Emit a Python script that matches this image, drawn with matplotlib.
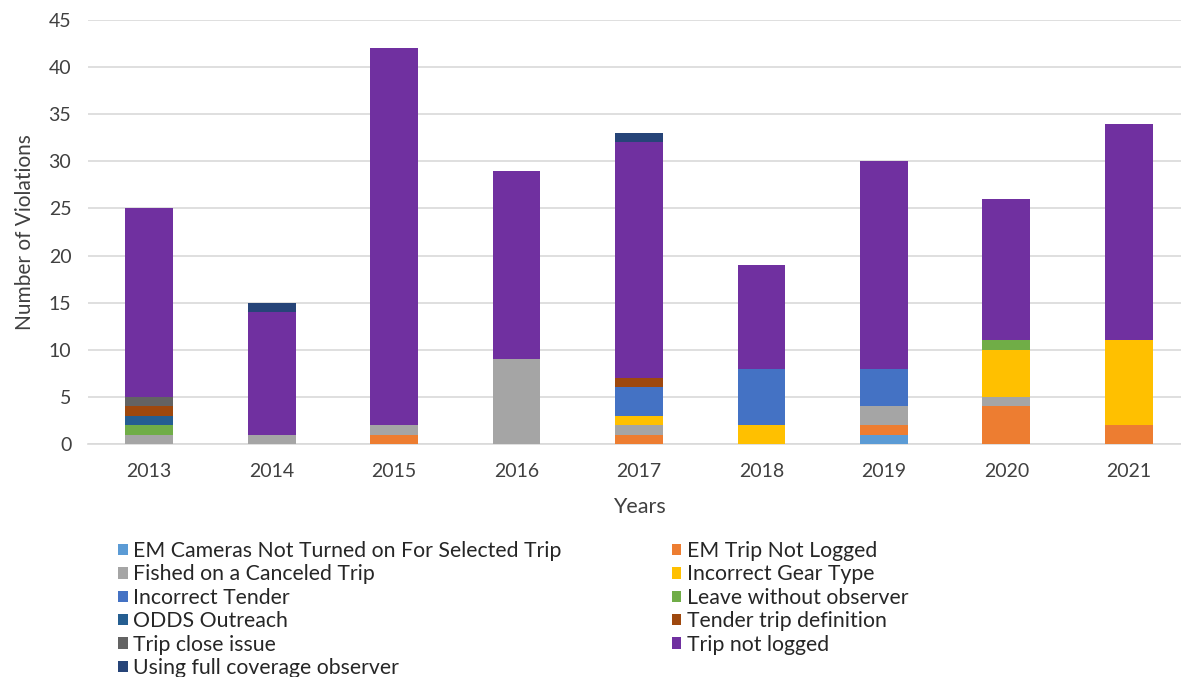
import matplotlib
matplotlib.use("Agg")
import matplotlib.pyplot as plt
import numpy as np

years = ["2013", "2014", "2015", "2016", "2017", "2018", "2019", "2020", "2021"]

em_cameras = [0, 0, 0, 0, 0, 0, 1, 0, 0]
em_trip_not_logged = [0, 0, 1, 0, 1, 0, 1, 4, 2]
fished_canceled = [1, 1, 1, 9, 1, 0, 2, 1, 0]
incorrect_gear = [0, 0, 0, 0, 1, 2, 0, 5, 9]
incorrect_tender = [0, 0, 0, 0, 3, 6, 4, 0, 0]
leave_without_obs = [1, 0, 0, 0, 0, 0, 0, 1, 0]
odds_outreach = [1, 0, 0, 0, 0, 0, 0, 0, 0]
tender_trip_def = [1, 0, 0, 0, 1, 0, 0, 0, 0]
trip_close_issue = [1, 0, 0, 0, 0, 0, 0, 0, 0]
trip_not_logged = [20, 13, 40, 20, 25, 11, 22, 15, 23]
full_coverage_obs = [0, 1, 0, 0, 1, 0, 0, 0, 0]

series = [
    ("EM Cameras Not Turned on For Selected Trip", em_cameras, "#5B9BD5"),
    ("EM Trip Not Logged", em_trip_not_logged, "#ED7D31"),
    ("Fished on a Canceled Trip", fished_canceled, "#A5A5A5"),
    ("Incorrect Gear Type", incorrect_gear, "#FFC000"),
    ("Incorrect Tender", incorrect_tender, "#4472C4"),
    ("Leave without observer", leave_without_obs, "#70AD47"),
    ("ODDS Outreach", odds_outreach, "#255E91"),
    ("Tender trip definition", tender_trip_def, "#9E480E"),
    ("Trip close issue", trip_close_issue, "#636363"),
    ("Trip not logged", trip_not_logged, "#7030A0"),
    ("Using full coverage observer", full_coverage_obs, "#264478"),
]

plt.rcParams['font.family'] = ['Lato', 'DejaVu Sans']

fig = plt.figure(figsize=(11.81, 6.77), dpi=100)
ax = fig.add_axes([88/1181, 1-444/677, (1190-88)/1181, (444-20)/677])

x = np.arange(len(years))
bottom = np.zeros(len(years))
handles = []
for name, vals, col in series:
    v = np.array(vals, dtype=float)
    b = ax.bar(x, v, width=0.39, bottom=bottom, color=col, label=name, zorder=3)
    handles.append(b)
    bottom += v

ax.set_xlim(-0.5, len(years) - 0.5)
ax.set_ylim(0, 45)
ax.set_yticks(range(0, 46, 5))
ax.set_xticks(x)
ax.set_xticklabels(years)
ax.yaxis.grid(True, color="#D9D9D9", linewidth=1.2, zorder=0)
ax.set_axisbelow(True)
for s in ["top", "right", "left"]:
    ax.spines[s].set_visible(False)
ax.spines["bottom"].set_color("#D9D9D9")
ax.spines["bottom"].set_linewidth(1.2)
ax.tick_params(axis="both", length=0, labelsize=14, colors="#404040", pad=12)
ax.tick_params(axis="x", pad=14)
ax.set_ylabel("Number of Violations", fontsize=15, color="#404040", labelpad=10)
ax.set_xlabel("Years", fontsize=15.5, color="#404040", labelpad=12)

# reorder for row-major legend with 2 columns
order = list(range(0, 11, 2)) + list(range(1, 11, 2))
leg = fig.legend([handles[i] for i in order], [series[i][0] for i in order],
                 ncol=2, loc="upper left", bbox_to_anchor=(118/1181, 1-541/677),
                 frameon=False, fontsize=15.3, handlelength=0.45, handleheight=0.45,
                 handletextpad=0.25, labelspacing=0.16, columnspacing=5.2,
                 borderpad=0, borderaxespad=0)
for t in leg.get_texts():
    t.set_color("#262626")

fig.savefig("out.png", dpi=100)
